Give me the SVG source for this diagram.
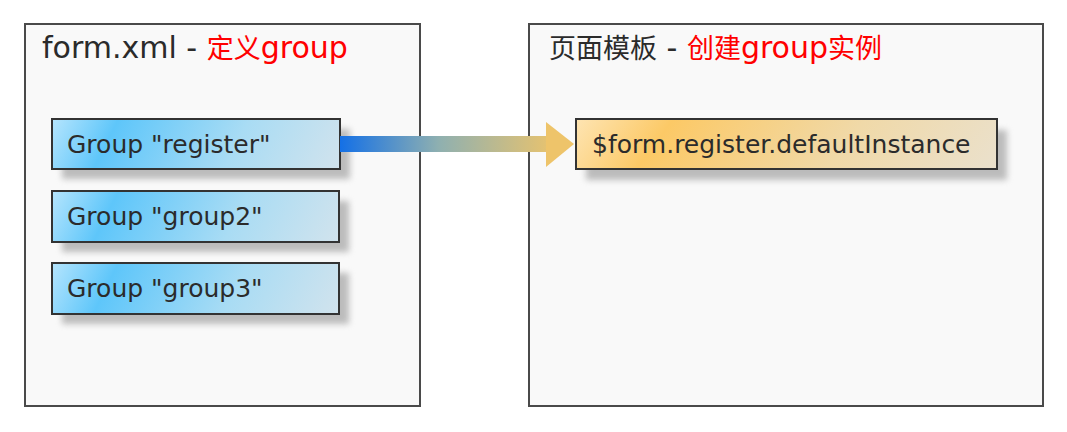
<svg xmlns="http://www.w3.org/2000/svg" width="1067" height="432" viewBox="0 0 1067 432">
<style>
.container{fill:#f9f9f9;stroke:#4a4a4a;stroke-width:2}
.box{stroke:#333;stroke-width:2}
.shadow{fill:#8a8a8a;opacity:0.55;filter:url(#blur)}
.title{font-family:"DejaVu Sans","Noto Sans CJK SC",sans-serif;font-size:30px;fill:#2b2b2b}
.cjk{font-size:27px}
.red{fill:#ff0000}
.label{font-family:"DejaVu Sans","Noto Sans CJK SC",sans-serif;font-size:25px;fill:#2b2b2b}
</style>
<defs>
<filter id="blur" x="-20%" y="-50%" width="140%" height="200%"><feGaussianBlur stdDeviation="3"/></filter>
<linearGradient id="blueGrad" x1="0" y1="0" x2="1" y2="1" gradientUnits="objectBoundingBox" gradientTransform="rotate(-40 0.5 0.5)">
<stop offset="0" stop-color="#f4fbff"/>
<stop offset="0.28" stop-color="#5ec6fa"/>
<stop offset="0.6" stop-color="#a9dcf4"/>
<stop offset="1" stop-color="#e2e6ea"/>
</linearGradient>
<linearGradient id="orangeGrad" x1="0" y1="0" x2="1" y2="1" gradientUnits="objectBoundingBox" gradientTransform="rotate(-40 0.5 0.5)">
<stop offset="0" stop-color="#fff8ea"/>
<stop offset="0.28" stop-color="#fcc966"/>
<stop offset="0.6" stop-color="#f0d9a8"/>
<stop offset="1" stop-color="#e8e4dc"/>
</linearGradient>
<linearGradient id="arrowGrad" x1="340" y1="0" x2="560" y2="0" gradientUnits="userSpaceOnUse">
<stop offset="0" stop-color="#1470e6"/>
<stop offset="0.45" stop-color="#8fb0b0"/>
<stop offset="1" stop-color="#eec46a"/>
</linearGradient>
</defs>

<g id="container-form">
<rect class="container" x="25" y="24" width="395" height="382"/>
<text class="title" x="42" y="58">form.xml - <tspan class="red"><tspan class="cjk">定义</tspan>group</tspan></text>
</g>

<g id="container-page">
<rect class="container" x="529" y="24" width="514" height="382"/>
<text class="title" x="549" y="58"><tspan class="cjk">页面模板</tspan> - <tspan class="red"><tspan class="cjk">创建</tspan>group<tspan class="cjk">实例</tspan></tspan></text>
</g>

<g id="node-register">
<rect class="shadow" x="62" y="129" width="288" height="50"/>
<rect class="box" x="52" y="119" width="288" height="50" fill="url(#blueGrad)"/>
<text class="label" x="67" y="153">Group "register"</text>
</g>

<g id="node-group2">
<rect class="shadow" x="62" y="201" width="287" height="51"/>
<rect class="box" x="52" y="191" width="287" height="51" fill="url(#blueGrad)"/>
<text class="label" x="67" y="225">Group "group2"</text>
</g>

<g id="node-group3">
<rect class="shadow" x="62" y="273" width="287" height="51"/>
<rect class="box" x="52" y="263" width="287" height="51" fill="url(#blueGrad)"/>
<text class="label" x="67" y="297">Group "group3"</text>
</g>

<g id="node-instance">
<rect class="shadow" x="586" y="130" width="421" height="50"/>
<rect class="box" x="576" y="119" width="421" height="50" fill="url(#orangeGrad)"/>
<text class="label" x="592" y="153">$form.register.defaultInstance</text>
</g>

<g id="connectors">
<rect x="340" y="136" width="208" height="16" fill="url(#arrowGrad)"/>
<polygon points="546,122 574,144 546,167" fill="#eec46a"/>
</g>
</svg>
